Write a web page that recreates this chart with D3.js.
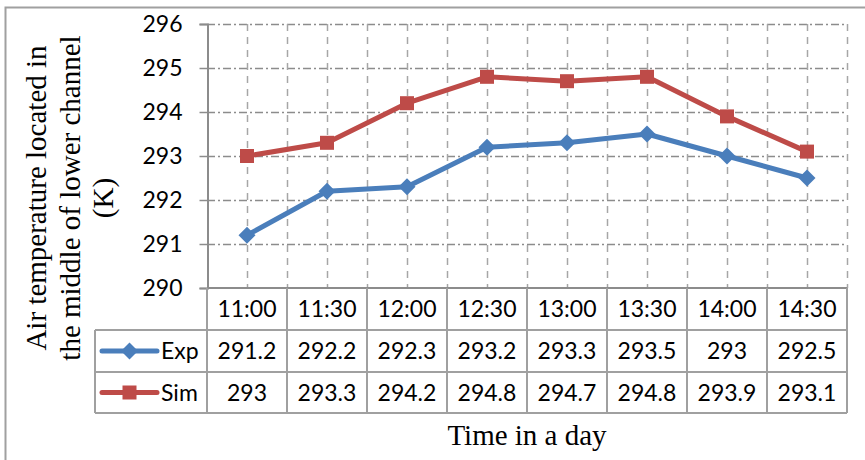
<!DOCTYPE html>
<html>
<head>
<meta charset="utf-8">
<script src="https://cdn.jsdelivr.net/npm/d3@7"></script>
<style>
  html, body { margin: 0; padding: 0; background: #fff; }
  svg { display: block; }
</style>
</head>
<body>
<svg id="chart" width="865" height="460"></svg>
<script>
// Time of day (x categories)
const times = ["11:00", "11:30", "12:00", "12:30", "13:00", "13:30", "14:00", "14:30"];
// Measured air temperature (K)
const expValues = [291.2, 292.2, 292.3, 293.2, 293.3, 293.5, 293, 292.5];
// Simulated air temperature (K)
const simValues = [293, 293.3, 294.2, 294.8, 294.7, 294.8, 293.9, 293.1];
// Y axis ticks
const yTicks = [290, 291, 292, 293, 294, 295, 296];

const series = [
  { name: "Exp", values: expValues, color: "#4a7ebb", marker: "diamond" },
  { name: "Sim", values: simValues, color: "#be4b48", marker: "square" }
];

const svg = d3.select("#chart");
const W = 865, H = 460;
const plot = { left: 207, right: 847, top: 24, bottom: 288 };
const rowH = [42, 42, 41];          // header, Exp, Sim rows
const legendLeft = 95;
const gridColor = "#8c8c8c";
const tableColor = "#a0a0a0";
const sansFont = "Lato, 'Open Sans', sans-serif";
const serifFont = "'Liberation Serif', 'Times New Roman', serif";

const x = d3.scaleBand().domain(times).range([plot.left, plot.right]).paddingInner(0).paddingOuter(0);
const y = d3.scaleLinear().domain([290, 296]).range([plot.bottom, plot.top]);

// Outer frame (top and left edges)
svg.append("path")
  .attr("d", `M5.5,${H} L5.5,7.5 L${W},7.5`)
  .attr("fill", "none").attr("stroke", "#a0a0a0").attr("stroke-width", 2);

// Horizontal gridlines (dash-dot)
const grid = svg.append("g");
grid.selectAll("line.h").data(yTicks.filter(t => t !== 290)).join("line")
  .attr("x1", plot.left).attr("x2", plot.right)
  .attr("y1", d => Math.round(y(d)) + 0.5).attr("y2", d => Math.round(y(d)) + 0.5)
  .attr("stroke", gridColor).attr("stroke-width", 1.5)
  .attr("stroke-dasharray", "8,3,2,3");

// Vertical gridlines at category centres and boundaries (dashed)
const vPos = [];
times.forEach((t, i) => {
  vPos.push(x(t) + x.bandwidth() / 2);
  vPos.push(x(t) + x.bandwidth());
});
grid.selectAll("line.v").data(vPos).join("line")
  .attr("x1", d => Math.round(d) + 0.5).attr("x2", d => Math.round(d) + 0.5)
  .attr("y1", plot.top).attr("y2", plot.bottom)
  .attr("stroke", "#a6a6a6").attr("stroke-width", 1.5)
  .attr("stroke-dasharray", "7,6");

// Y axis
const yAxis = svg.append("g")
  .attr("transform", `translate(${plot.left + 0.5},0)`)
  .call(d3.axisLeft(y).tickValues(yTicks).tickFormat(d3.format("d")).tickSize(8).tickPadding(17));
yAxis.select(".domain").attr("stroke", gridColor).attr("stroke-width", 2);
yAxis.selectAll(".tick line").attr("stroke", gridColor).attr("stroke-width", 1.5);
yAxis.selectAll(".tick text")
  .attr("font-family", sansFont).attr("font-size", 23).attr("fill", "#000");

// Data table (category header + one row per series)
const tableTop = plot.bottom;
const rowTops = [tableTop, tableTop + rowH[0], tableTop + rowH[0] + rowH[1]];
const tableBottom = rowTops[2] + rowH[2];
const table = svg.append("g");

// horizontal table rules
table.append("line").attr("x1", plot.left).attr("x2", plot.right)
  .attr("y1", tableTop).attr("y2", tableTop).attr("stroke", gridColor).attr("stroke-width", 2);
[rowTops[1], rowTops[2], tableBottom].forEach(yy => {
  table.append("line").attr("x1", legendLeft).attr("x2", plot.right)
    .attr("y1", yy).attr("y2", yy).attr("stroke", tableColor).attr("stroke-width", 2);
});
// vertical table rules
[plot.left, ...times.map(t => x(t) + x.bandwidth())].forEach(xx => {
  table.append("line").attr("x1", xx).attr("x2", xx)
    .attr("y1", tableTop).attr("y2", tableBottom)
    .attr("stroke", tableColor).attr("stroke-width", 2);
});
table.append("line").attr("x1", legendLeft).attr("x2", legendLeft)
  .attr("y1", rowTops[1]).attr("y2", tableBottom)
  .attr("stroke", tableColor).attr("stroke-width", 2);

// header labels
table.selectAll("text.hdr").data(times).join("text")
  .attr("x", d => x(d) + x.bandwidth() / 2)
  .attr("y", rowTops[0] + rowH[0] / 2)
  .attr("dy", "0.36em")
  .attr("text-anchor", "middle")
  .attr("font-family", sansFont).attr("font-size", 23)
  .text(d => d);

// value cells
series.forEach((s, si) => {
  const rt = rowTops[si + 1];
  const rh = rowH[si + 1];
  table.selectAll(`text.v${si}`).data(s.values).join("text")
    .attr("x", (d, i) => x(times[i]) + x.bandwidth() / 2)
    .attr("y", rt + rh / 2)
    .attr("dy", "0.36em")
    .attr("text-anchor", "middle")
    .attr("font-family", sansFont).attr("font-size", 23)
    .text(d => d);
});

// marker shapes
function marker(sel, type, color) {
  if (type === "diamond") {
    sel.append("path").attr("d", "M0,-8.5 L8.5,0 L0,8.5 L-8.5,0 Z").attr("fill", color);
  } else {
    sel.append("rect").attr("x", -7).attr("y", -7).attr("width", 14).attr("height", 14).attr("fill", color);
  }
}

// legend keys inside the table
series.forEach((s, si) => {
  const cy = rowTops[si + 1] + rowH[si + 1] / 2;
  const g = table.append("g");
  g.append("line").attr("x1", 102).attr("x2", 157).attr("y1", cy).attr("y2", cy)
    .attr("stroke", s.color).attr("stroke-width", 5).attr("stroke-linecap", "round");
  const m = g.append("g").attr("transform", `translate(129.5,${cy})`);
  marker(m, s.marker, s.color);
  g.append("text").attr("x", 161).attr("y", cy).attr("dy", "0.36em")
    .attr("font-family", sansFont).attr("font-size", 23).text(s.name);
});

// series lines and markers
const line = d3.line()
  .x((d, i) => x(times[i]) + x.bandwidth() / 2)
  .y(d => y(d));
series.forEach(s => {
  const g = svg.append("g");
  g.append("path").datum(s.values).attr("d", line)
    .attr("fill", "none").attr("stroke", s.color).attr("stroke-width", 5)
    .attr("stroke-linejoin", "round");
  s.values.forEach((v, i) => {
    const m = g.append("g").attr("transform", `translate(${x(times[i]) + x.bandwidth() / 2},${y(v)})`);
    marker(m, s.marker, s.color);
  });
});

// Axis titles
const yTitle = svg.append("text")
  .attr("transform", "translate(0,198) rotate(-90)")
  .attr("text-anchor", "middle")
  .attr("font-family", serifFont).attr("font-size", 29).attr("fill", "#000");
[["Air temperature located in", 46], ["the middle of lower channel", 80], ["(K)", 113]].forEach(([t, bx]) => {
  yTitle.append("tspan").attr("x", 0).attr("y", bx).text(t);
});

svg.append("text")
  .attr("x", 527).attr("y", 445)
  .attr("text-anchor", "middle")
  .attr("font-family", serifFont).attr("font-size", 29).attr("fill", "#000")
  .text("Time in a day");
</script>
</body>
</html>
